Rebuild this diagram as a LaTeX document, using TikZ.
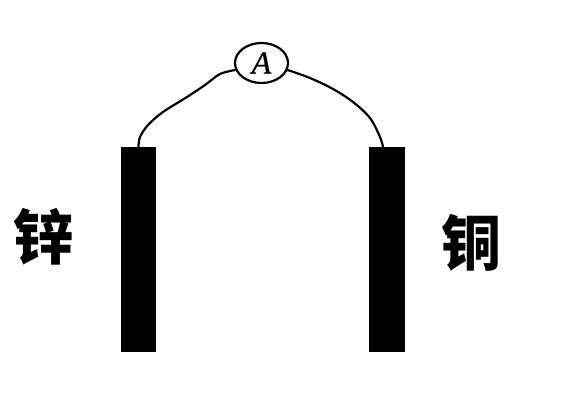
\documentclass[tikz,border=0pt]{standalone}
\usepackage{fontspec}
\newfontfamily\cjkheavy{Noto Sans CJK SC Black}
\setmainfont{Liberation Serif}
\newfontfamily\meterfont[FakeBold=0.6]{Liberation Serif Italic}
\usetikzlibrary{shapes.geometric}
\tikzset{
  plate/.style={fill=black,draw=none,inner sep=0pt,minimum width=#1,minimum height=205pt},
  metal/.style={font=\cjkheavy\fontsize{60}{60}\selectfont,inner sep=0pt,text=black},
  meter/.style={draw=black,line width=2.2pt,ellipse,inner sep=0pt,minimum width=53pt,minimum height=40pt,font=\meterfont\fontsize{32}{32}\selectfont},
  wire/.style={draw=black,line width=2.2pt,line cap=round,line join=round}
}
\begin{document}
\begin{tikzpicture}[x=1pt,y=-1pt]
\useasboundingbox (0,0) rectangle (563,409);
\node[plate=35pt] (zn) at (138.5,249.5) {};
\node[plate=36pt] (cu) at (387,249.5) {};
\node[meter] (am) at (261.5,63) {A};
\node[metal] (znl) at (43,237) {锌};
\node[metal] (cul) at (471.5,243) {铜};
\draw[wire] plot[smooth,tension=0.55] coordinates {(zn.north) (140,137) (148,125) (163,112) (187,97) (205,85) (220,74) (am.195)};
\draw[wire] plot[smooth,tension=0.55] coordinates {(am.-15) (310,78) (333,89) (353,102) (370,118) (380,137) ([xshift=-4pt]cu.north)};
\end{tikzpicture}
\end{document}
